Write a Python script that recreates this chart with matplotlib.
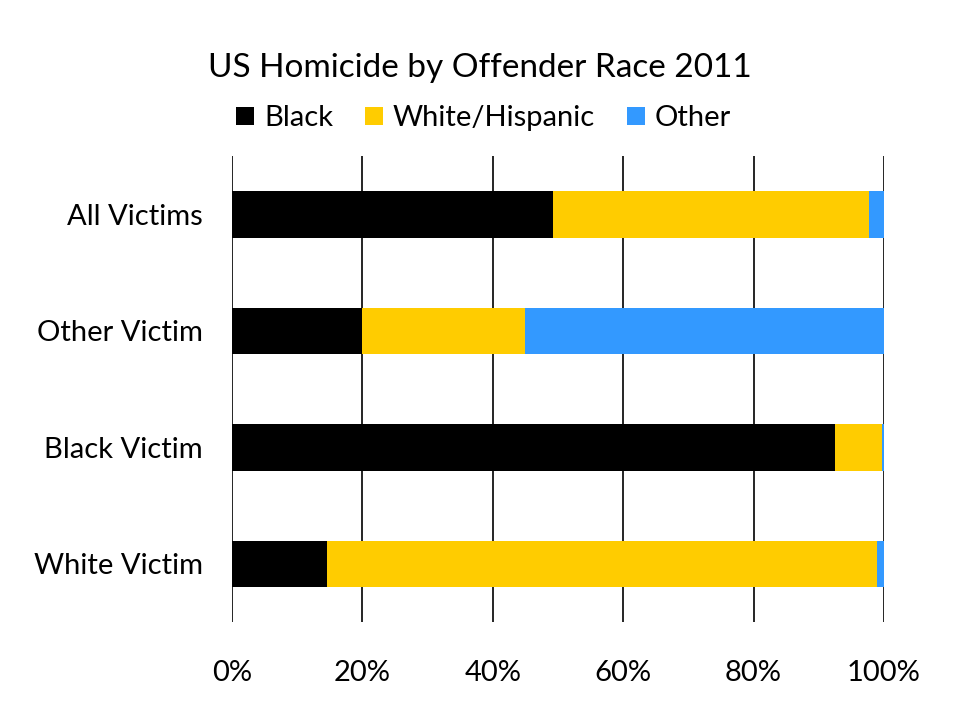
import matplotlib
matplotlib.use("Agg")
import numpy as np
from matplotlib import pyplot as plt

# Data (percent of offenders)
categories = ["All Victims", "Other Victim", "Black Victim", "White Victim"]
black = [49.3, 20.0, 92.5, 14.5]
white_hispanic = [48.4, 25.0, 7.2, 84.4]
other = [2.3, 55.0, 0.3, 1.1]
series_names = ["Black", "White/Hispanic", "Other"]
xticks = [0, 20, 40, 60, 80, 100]

colours = ["#000000", "#FFCC00", "#3399FF"]

plt.rcParams["font.family"] = ["Lato", "DejaVu Sans"]

fig = plt.figure(figsize=(9.6, 7.2), dpi=100)
ax = fig.add_axes([0.2417, 0.136, 0.6791, 0.647])

y = np.arange(len(categories))[::-1]
left = np.zeros(len(categories))
for vals, name, col in zip([black, white_hispanic, other], series_names, colours):
    ax.barh(y, vals, left=left, height=0.4, color=col, label=name, zorder=2)
    left = left + np.array(vals)

ax.set_xlim(0, 100)
ax.set_ylim(-0.5, len(categories) - 0.5)
ax.set_xticks(xticks)
ax.set_xticklabels(["{}%".format(t) for t in xticks])
ax.set_yticks(y)
ax.set_yticklabels(categories)
ax.tick_params(axis="both", length=0, labelsize=21)
ax.tick_params(axis="x", pad=27)
ax.tick_params(axis="y", pad=21)
ax.grid(axis="x", color="black", linewidth=1.2, zorder=0)
for s in ax.spines.values():
    s.set_visible(False)

fig.text(0.5, 0.906, "US Homicide by Offender Race 2011", ha="center", va="center", fontsize=24)
handles, labels = ax.get_legend_handles_labels()
fig.legend(handles, labels, loc="center", bbox_to_anchor=(0.504, 0.836), ncol=3, frameon=False,
           fontsize=21, handlelength=0.6, handleheight=0.6, handletextpad=0.35, columnspacing=1.1)

fig.savefig("out.png", dpi=100)
